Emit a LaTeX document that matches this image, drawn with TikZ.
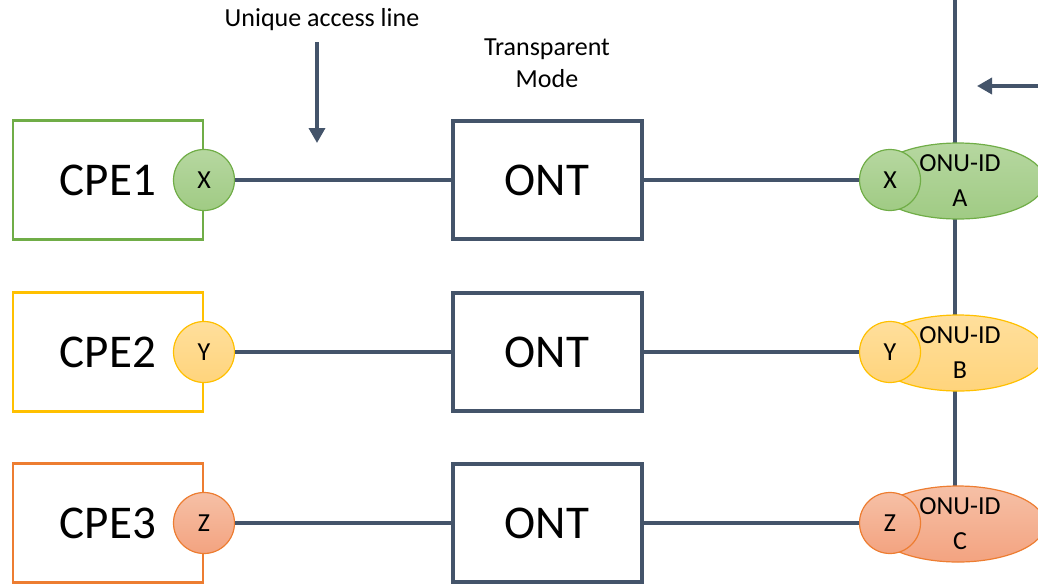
\documentclass[tikz,border=0pt]{standalone}
\usepackage{fontspec}
\setmainfont{Carlito}
\usetikzlibrary{arrows.meta,shapes.geometric}

\definecolor{linec}{HTML}{44546A}
\definecolor{grS}{HTML}{70AD47}
\definecolor{grT}{HTML}{B6D7A0}
\definecolor{grB}{HTML}{A0CB84}
\definecolor{ylS}{HTML}{FFC000}
\definecolor{ylT}{HTML}{FFDF9C}
\definecolor{ylB}{HTML}{FFD47C}
\definecolor{orS}{HTML}{ED7D31}
\definecolor{orT}{HTML}{F6C0A6}
\definecolor{orB}{HTML}{F3A380}

\tikzset{
  cpebox/.style={draw=#1, line width=2.5pt, fill=white, minimum width=190pt,
    minimum height=119pt, inner sep=0pt, font=\fontsize{47}{56}\selectfont},
  ontbox/.style={draw=linec, line width=4pt, fill=white, minimum width=189pt,
    minimum height=118pt, inner sep=0pt, font=\fontsize{47}{56}\selectfont},
  port/.style={circle, draw=#1S, top color=#1T, bottom color=#1B, line width=1.2pt,
    minimum size=61pt, inner sep=0pt, font=\fontsize{26}{30}\selectfont},
  onuid/.style={ellipse, draw=#1S, top color=#1T, bottom color=#1B, line width=1.2pt,
    minimum width=174pt, minimum height=76pt, inner sep=0pt},
  onutext/.style={align=center, inner sep=0pt, font=\fontsize{26}{35}\selectfont},
  label/.style={align=center, inner sep=0pt, font=\fontsize{26}{32}\selectfont},
  link/.style={draw=linec, line width=3.5pt},
  pointer/.style={draw=linec, line width=3.5pt, -{Triangle[length=15pt,width=16pt]}},
}

\begin{document}
\begin{tikzpicture}[x=1pt,y=-1pt]
  \useasboundingbox (0,0) rectangle (1038,587);
  \clip (0,0) rectangle (1038,587);

  % shared vertical line on the right, behind the ONU-ID ellipses
  \coordinate (bustop) at (955,-5);
  \coordinate (busend) at (955,500);
  \draw[link, line width=4pt] (bustop) -- (busend);

  % top annotations
  \node[label] (ual) at (322,20) {Unique access line};
  \coordinate (ualtail) at (317,42);
  \coordinate (ualtip) at (317,143);
  \draw[pointer] (ualtail) -- (ualtip);

  \node[label] (tmode) at (547,63) {Transparent\\Mode};

  \coordinate (feedtail) at (1045,86);
  \coordinate (feedtip) at (977,86);
  \draw[pointer] (feedtail) -- (feedtip);

  % row 1
  \node[cpebox=grS] (cpe1) at (108,180) {CPE1};
  \node[port=gr] (px1) at (204,180) {X};
  \node[ontbox] (ont1) at (547,180) {ONT};
  \node[onuid=gr] (onu1) at (958,181) {};
  \node[onutext] (onu1t) at (960,181) {ONU-ID\\A};
  \node[port=gr] (ox1) at (890,180) {X};
  \draw[link] (px1) -- (ont1);
  \draw[link] (ont1) -- (ox1);

  % row 2
  \node[cpebox=ylS] (cpe2) at (108,352) {CPE2};
  \node[port=yl] (px2) at (204,352) {Y};
  \node[ontbox] (ont2) at (547,352) {ONT};
  \node[onuid=yl] (onu2) at (958,353) {};
  \node[onutext] (onu2t) at (960,353) {ONU-ID\\B};
  \node[port=yl] (ox2) at (890,352) {Y};
  \draw[link] (px2) -- (ont2);
  \draw[link] (ont2) -- (ox2);

  % row 3
  \node[cpebox=orS] (cpe3) at (108,523) {CPE3};
  \node[port=or] (px3) at (204,523) {Z};
  \node[ontbox] (ont3) at (547,523) {ONT};
  \node[onuid=or] (onu3) at (958,524) {};
  \node[onutext] (onu3t) at (960,524) {ONU-ID\\C};
  \node[port=or] (ox3) at (890,523) {Z};
  \draw[link] (px3) -- (ont3);
  \draw[link] (ont3) -- (ox3);
\end{tikzpicture}
\end{document}
